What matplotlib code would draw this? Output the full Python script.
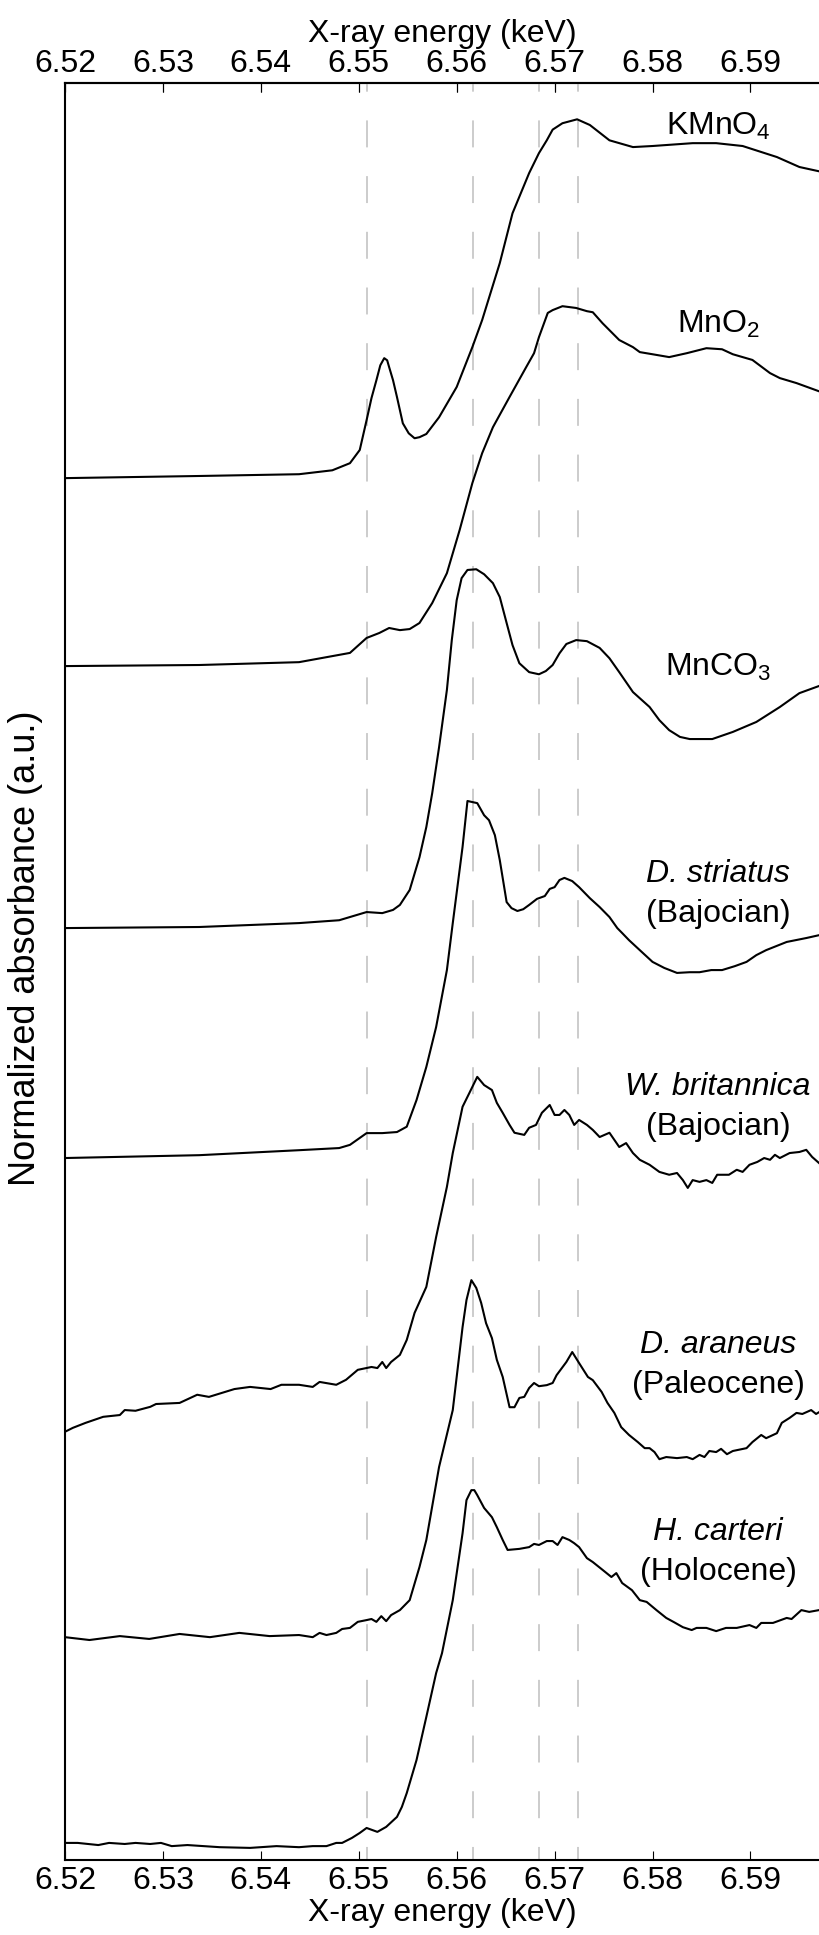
import matplotlib
matplotlib.use("Agg")
import matplotlib.pyplot as plt

plt.rcParams['font.family'] = ['Liberation Sans', 'DejaVu Sans']
plt.rcParams['mathtext.fontset'] = 'custom'
plt.rcParams['mathtext.rm'] = 'Liberation Sans'
plt.rcParams['mathtext.it'] = 'Liberation Sans:italic'
plt.rcParams['lines.scale_dashes'] = False

# ---- data: energy (keV) and normalized absorbance for each sample ----
kmno4_e = [6.5200, 6.5337, 6.5439, 6.5473, 6.5491, 6.5501, 6.5508, 6.5513, 6.5518, 6.5522,
           6.5526, 6.5529, 6.5531, 6.5535, 6.5539, 6.5545, 6.5551, 6.5557, 6.5562, 6.5569,
           6.5582, 6.5600, 6.5616, 6.5626, 6.5644, 6.5657, 6.5674, 6.5684, 6.5692, 6.5698,
           6.5708, 6.5723, 6.5736, 6.5756, 6.5780, 6.5800, 6.5841, 6.5865, 6.5892, 6.5927,
           6.5950, 6.5970]
kmno4_a = [0.000, 0.006, 0.011, 0.022, 0.042, 0.079, 0.163, 0.225, 0.275, 0.317,
           0.337, 0.331, 0.312, 0.275, 0.228, 0.154, 0.126, 0.112, 0.115, 0.124,
           0.171, 0.256, 0.368, 0.444, 0.604, 0.744, 0.857, 0.913, 0.949, 0.979,
           0.997, 1.008, 0.992, 0.949, 0.930, 0.933, 0.941, 0.941, 0.933, 0.902,
           0.874, 0.862]

mno2_e = [6.5200, 6.5337, 6.5439, 6.5491, 6.5508, 6.5521, 6.5531, 6.5542, 6.5552, 6.5562,
          6.5575, 6.5590, 6.5603, 6.5616, 6.5626, 6.5637, 6.5654, 6.5671, 6.5679, 6.5684,
          6.5693, 6.5698, 6.5708, 6.5722, 6.5733, 6.5739, 6.5749, 6.5766, 6.5780, 6.5787,
          6.5800, 6.5817, 6.5835, 6.5855, 6.5871, 6.5882, 6.5902, 6.5920, 6.5930, 6.5947,
          6.5970]
mno2_a = [0.000, 0.003, 0.011, 0.037, 0.079, 0.093, 0.107, 0.101, 0.104, 0.121,
          0.177, 0.261, 0.382, 0.514, 0.598, 0.671, 0.756, 0.840, 0.879, 0.924,
          0.992, 1.000, 1.011, 1.006, 0.997, 0.994, 0.963, 0.916, 0.896, 0.882,
          0.876, 0.868, 0.879, 0.893, 0.890, 0.876, 0.860, 0.823, 0.809, 0.795,
          0.772]

mnco3_e = [6.5200, 6.5337, 6.5439, 6.5480, 6.5508, 6.5524, 6.5535, 6.5542, 6.5552, 6.5562,
           6.5569, 6.5575, 6.5582, 6.5590, 6.5595, 6.5600, 6.5605, 6.5611, 6.5620, 6.5628,
           6.5637, 6.5644, 6.5651, 6.5657, 6.5664, 6.5674, 6.5684, 6.5691, 6.5698, 6.5705,
           6.5712, 6.5722, 6.5733, 6.5746, 6.5756, 6.5766, 6.5780, 6.5797, 6.5807, 6.5817,
           6.5828, 6.5838, 6.5861, 6.5882, 6.5906, 6.5930, 6.5950, 6.5970]
mnco3_a = [0.000, 0.003, 0.014, 0.022, 0.045, 0.042, 0.051, 0.065, 0.107, 0.199,
           0.284, 0.379, 0.508, 0.669, 0.809, 0.921, 0.983, 1.006, 1.008, 0.994,
           0.969, 0.930, 0.857, 0.795, 0.744, 0.719, 0.713, 0.722, 0.739, 0.772,
           0.798, 0.809, 0.806, 0.787, 0.758, 0.719, 0.663, 0.621, 0.584, 0.556,
           0.537, 0.531, 0.531, 0.551, 0.579, 0.621, 0.660, 0.680]

dstr_e = [6.5200, 6.5337, 6.5439, 6.5480, 6.5491, 6.5508, 6.5524, 6.5539, 6.5549, 6.5559,
          6.5569, 6.5579, 6.5590, 6.5596, 6.5606, 6.5611, 6.5621, 6.5628, 6.5633, 6.5639,
          6.5644, 6.5651, 6.5656, 6.5662, 6.5668, 6.5674, 6.5682, 6.5690, 6.5695, 6.5700,
          6.5705, 6.5710, 6.5718, 6.5725, 6.5736, 6.5746, 6.5756, 6.5764, 6.5769, 6.5776,
          6.5787, 6.5800, 6.5812, 6.5825, 6.5838, 6.5848, 6.5860, 6.5871, 6.5884, 6.5896,
          6.5906, 6.5916, 6.5937, 6.5957, 6.5970]
dstr_a = [0.000, 0.008, 0.022, 0.028, 0.037, 0.070, 0.070, 0.073, 0.088, 0.163,
          0.256, 0.368, 0.528, 0.660, 0.874, 1.003, 0.997, 0.963, 0.949, 0.907,
          0.837, 0.719, 0.702, 0.694, 0.699, 0.711, 0.728, 0.736, 0.756, 0.761,
          0.781, 0.787, 0.778, 0.761, 0.730, 0.705, 0.677, 0.646, 0.632, 0.612,
          0.584, 0.551, 0.534, 0.520, 0.522, 0.522, 0.528, 0.528, 0.539, 0.551,
          0.570, 0.584, 0.607, 0.618, 0.626]

wbri_e = [6.5200, 6.5208, 6.5221, 6.5239, 6.5256, 6.5261, 6.5272, 6.5287, 6.5293, 6.5317,
          6.5335, 6.5347, 6.5373, 6.5389, 6.5410, 6.5421, 6.5439, 6.5453, 6.5460, 6.5477,
          6.5487, 6.5499, 6.5513, 6.5519, 6.5524, 6.5528, 6.5533, 6.5542, 6.5549, 6.5557,
          6.5569, 6.5579, 6.5590, 6.5596, 6.5606, 6.5613, 6.5621, 6.5628, 6.5636, 6.5641,
          6.5647, 6.5654, 6.5659, 6.5669, 6.5674, 6.5681, 6.5687, 6.5695, 6.5700, 6.5705,
          6.5710, 6.5715, 6.5720, 6.5725, 6.5733, 6.5739, 6.5746, 6.5751, 6.5756, 6.5761,
          6.5766, 6.5773, 6.5780, 6.5787, 6.5797, 6.5807, 6.5817, 6.5825, 6.5831, 6.5836,
          6.5841, 6.5848, 6.5855, 6.5861, 6.5866, 6.5878, 6.5886, 6.5892, 6.5899, 6.5907,
          6.5914, 6.5920, 6.5925, 6.5930, 6.5940, 6.5950, 6.5957, 6.5963, 6.5970]
wbri_a = [0.006, 0.017, 0.031, 0.048, 0.053, 0.067, 0.065, 0.076, 0.084, 0.087,
          0.110, 0.104, 0.126, 0.132, 0.126, 0.138, 0.138, 0.132, 0.146, 0.138,
          0.152, 0.180, 0.188, 0.185, 0.202, 0.185, 0.202, 0.222, 0.264, 0.340,
          0.413, 0.553, 0.694, 0.789, 0.919, 0.958, 1.003, 0.980, 0.966, 0.930,
          0.902, 0.868, 0.846, 0.840, 0.860, 0.868, 0.902, 0.924, 0.896, 0.896,
          0.910, 0.896, 0.868, 0.882, 0.868, 0.854, 0.834, 0.840, 0.846, 0.826,
          0.806, 0.817, 0.789, 0.770, 0.756, 0.736, 0.728, 0.733, 0.713, 0.691,
          0.713, 0.708, 0.713, 0.705, 0.728, 0.728, 0.742, 0.736, 0.756, 0.764,
          0.775, 0.770, 0.784, 0.775, 0.789, 0.792, 0.798, 0.778, 0.761]

dara_e = [6.5200, 6.5225, 6.5256, 6.5286, 6.5317, 6.5348, 6.5378, 6.5409, 6.5439, 6.5453,
          6.5460, 6.5467, 6.5477, 6.5483, 6.5491, 6.5499, 6.5508, 6.5513, 6.5518, 6.5523,
          6.5528, 6.5533, 6.5542, 6.5552, 6.5562, 6.5569, 6.5582, 6.5596, 6.5606, 6.5610,
          6.5615, 6.5620, 6.5625, 6.5630, 6.5636, 6.5641, 6.5647, 6.5654, 6.5659, 6.5664,
          6.5669, 6.5674, 6.5679, 6.5684, 6.5692, 6.5698, 6.5702, 6.5712, 6.5718, 6.5725,
          6.5734, 6.5739, 6.5748, 6.5754, 6.5761, 6.5768, 6.5776, 6.5785, 6.5792, 6.5797,
          6.5802, 6.5807, 6.5814, 6.5825, 6.5835, 6.5841, 6.5848, 6.5853, 6.5858, 6.5865,
          6.5870, 6.5876, 6.5882, 6.5896, 6.5902, 6.5911, 6.5916, 6.5927, 6.5932, 6.5940,
          6.5947, 6.5953, 6.5962, 6.5967, 6.5970]
dara_a = [0.008, 0.000, 0.011, 0.003, 0.017, 0.008, 0.020, 0.011, 0.014, 0.008,
          0.020, 0.014, 0.020, 0.031, 0.034, 0.051, 0.056, 0.059, 0.051, 0.067,
          0.053, 0.070, 0.084, 0.112, 0.205, 0.281, 0.486, 0.646, 0.879, 0.955,
          1.011, 0.989, 0.947, 0.890, 0.848, 0.787, 0.739, 0.654, 0.654, 0.680,
          0.683, 0.708, 0.722, 0.713, 0.716, 0.722, 0.744, 0.781, 0.809, 0.778,
          0.739, 0.730, 0.697, 0.666, 0.638, 0.598, 0.576, 0.556, 0.539, 0.539,
          0.528, 0.508, 0.514, 0.511, 0.514, 0.508, 0.520, 0.514, 0.531, 0.528,
          0.537, 0.522, 0.531, 0.539, 0.556, 0.576, 0.567, 0.581, 0.610, 0.624,
          0.638, 0.635, 0.646, 0.635, 0.640]

hcar_e = [6.5200, 6.5213, 6.5234, 6.5245, 6.5261, 6.5272, 6.5287, 6.5298, 6.5309, 6.5325,
          6.5358, 6.5389, 6.5416, 6.5439, 6.5453, 6.5467, 6.5477, 6.5483, 6.5493, 6.5501,
          6.5508, 6.5514, 6.5519, 6.5528, 6.5539, 6.5544, 6.5549, 6.5559, 6.5569, 6.5579,
          6.5585, 6.5596, 6.5606, 6.5610, 6.5615, 6.5618, 6.5621, 6.5628, 6.5636, 6.5641,
          6.5647, 6.5652, 6.5664, 6.5674, 6.5679, 6.5684, 6.5692, 6.5698, 6.5703, 6.5708,
          6.5715, 6.5720, 6.5725, 6.5733, 6.5739, 6.5749, 6.5758, 6.5763, 6.5769, 6.5779,
          6.5787, 6.5794, 6.5804, 6.5814, 6.5822, 6.5831, 6.5840, 6.5845, 6.5855, 6.5865,
          6.5875, 6.5886, 6.5899, 6.5906, 6.5911, 6.5923, 6.5937, 6.5942, 6.5952, 6.5960,
          6.5970]
hcar_a = [0.020, 0.020, 0.014, 0.020, 0.017, 0.020, 0.017, 0.020, 0.011, 0.014,
          0.008, 0.006, 0.011, 0.008, 0.011, 0.011, 0.020, 0.020, 0.034, 0.048,
          0.062, 0.056, 0.051, 0.065, 0.093, 0.121, 0.160, 0.253, 0.374, 0.497,
          0.553, 0.702, 0.890, 0.983, 1.011, 1.011, 0.997, 0.961, 0.935, 0.907,
          0.871, 0.843, 0.846, 0.851, 0.860, 0.857, 0.868, 0.868, 0.857, 0.879,
          0.871, 0.862, 0.851, 0.820, 0.809, 0.787, 0.767, 0.778, 0.750, 0.730,
          0.702, 0.697, 0.674, 0.652, 0.640, 0.626, 0.618, 0.624, 0.624, 0.615,
          0.624, 0.624, 0.632, 0.624, 0.638, 0.638, 0.652, 0.649, 0.674, 0.669,
          0.674]

offsets = [3.882, 3.354, 2.618, 1.972, 1.197, 0.618, 0.028]

# reference energies (keV) marked with dashed lines
ref_lines = [6.5508, 6.5617, 6.5684, 6.5724]

xticks = [6.52, 6.53, 6.54, 6.55, 6.56, 6.57, 6.58, 6.59]

labels = [
    ("KMnO$_4$", None, 4.846),
    ("MnO$_2$", None, 4.289),
    ("MnCO$_3$", None, 3.326),
    ("D. striatus", "(Bajocian)", 2.747),
    ("W. britannica", "(Bajocian)", 2.149),
    ("D. araneus", "(Paleocene)", 1.424),
    ("H. carteri", "(Holocene)", 0.899),
]

spectra = [(kmno4_e, kmno4_a), (mno2_e, mno2_a), (mnco3_e, mnco3_a), (dstr_e, dstr_a),
           (wbri_e, wbri_a), (dara_e, dara_a), (hcar_e, hcar_a)]

fig = plt.figure(figsize=(8.19, 19.35), dpi=100)
ax = fig.add_axes([65 / 819, 75 / 1935, 1 - 65 / 819, (1860 - 83) / 1935])

for xv in ref_lines:
    ax.axvline(xv, color="#c8c8c8", lw=1.3, ls=(10.0, (19.4, 20.7)), zorder=1)

for (e, a), off in zip(spectra, offsets):
    ax.plot(e, [v + off for v in a], color="black", lw=1.5, zorder=3)

lab_x = 6.5867
for name, sub, yb in labels:
    if sub is None:
        ax.text(lab_x, yb, name, fontsize=23, ha="center", va="baseline")
    else:
        ax.text(lab_x, yb, name, fontsize=23, ha="center", va="baseline", style="italic")
        ax.text(lab_x, yb - 0.112, sub, fontsize=23, ha="center", va="baseline")

ax.set_xlim(6.52, 6.597)
ax.set_ylim(0, 4.992)
ax.set_xticks(xticks)
ax.set_xticklabels([f"{t:.2f}" for t in xticks])
ax.set_yticks([])
ax.tick_params(axis="x", direction="in", length=6.7, width=0.8, labelsize=23, pad=4,
               top=True)
ax.spines["right"].set_visible(False)
for s in ["left", "top", "bottom"]:
    ax.spines[s].set_linewidth(1.5)

ax.set_xlabel("X-ray energy (keV)", fontsize=23, labelpad=2)
ax.set_ylabel("Normalized absorbance (a.u.)", fontsize=26)
ax.yaxis.set_label_coords(-0.029, 0.513)

secax = ax.secondary_xaxis("top")
secax.set_xticks(xticks)
secax.set_xticklabels([f"{t:.2f}" for t in xticks])
secax.tick_params(direction="in", length=6.7, width=0.8, labelsize=23, pad=3)
secax.spines["top"].set_linewidth(1.5)
secax.set_xlabel("X-ray energy (keV)", fontsize=23, labelpad=5)

fig.savefig("out.png", dpi=100)
